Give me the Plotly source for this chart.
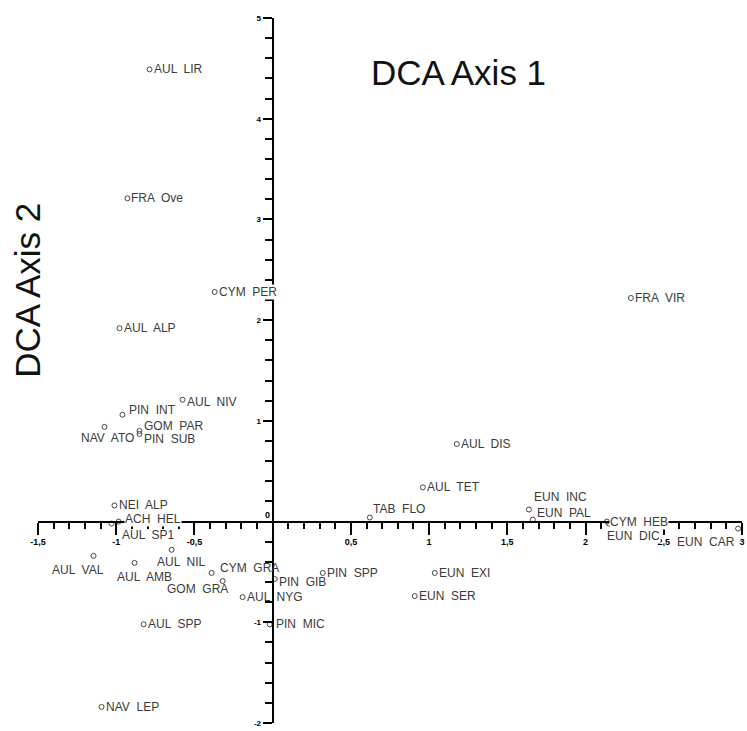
import plotly.graph_objects as go

# ---- data (DCA scores) ----
species = ["AUL LIR", "FRA Ove", "CYM PER", "AUL ALP", "FRA VIR", "AUL NIV", "PIN INT",
           "GOM PAR", "PIN SUB", "NAV ATO", "NEI ALP", "ACH HEL", "AUL SP1", "AUL VAL",
           "AUL AMB", "AUL NIL", "CYM GRA", "GOM GRA", "AUL NYG", "PIN GIB", "PIN SPP",
           "AUL SPP", "PIN MIC", "NAV LEP", "TAB FLO", "AUL TET", "AUL DIS", "EUN INC",
           "EUN PAL", "CYM HEB", "EUN DIC", "EUN CAR", "EUN EXI", "EUN SER"]
axis1 = [-0.787, -0.928, -0.371, -0.979, 2.29, -0.576, -0.960,
         -0.851, -0.851, -1.075, -1.011, -0.985, -1.030, -1.145,
         -0.883, -0.646, -0.390, -0.320, -0.192, 0.013, 0.320,
         -0.825, -0.019, -1.094, 0.621, 0.960, 1.177, 1.638,
         1.663, 2.137, 2.150, 2.975, 1.036, 0.908]
axis2 = [4.49, 3.21, 2.28, 1.92, 2.22, 1.21, 1.06,
         0.90, 0.87, 0.94, 0.16, 0.00, -0.02, -0.34,
         -0.41, -0.28, -0.51, -0.59, -0.75, -0.57, -0.51,
         -1.02, -1.02, -1.84, 0.04, 0.34, 0.77, 0.12,
         0.02, 0.00, -0.02, -0.07, -0.51, -0.74]

x_ticks = [-1.5, -1, -0.5, 0.5, 1, 1.5, 2, 2.5, 3]
x_ticktext = ["-1,5", "-1", "-0,5", "0,5", "1", "1,5", "2", "2,5", "3"]
y_ticks = [-2, -1, 1, 2, 3, 4, 5]
y_ticktext = ["-2", "-1", "1", "2", "3", "4", "5"]

# ---- label placement (pixel offsets from the marker, anchor) ----
label_place = {
    "AUL NIV": (3, 2, "left"), "PIN INT": (6, -5, "left"), "GOM PAR": (3, -5, "left"),
    "PIN SUB": (3, 5, "left"), "NAV ATO": (3, 11, "center"), "TAB FLO": (2, -9, "left"),
    "EUN INC": (4, -12, "left"), "EUN PAL": (3, -7, "left"), "CYM HEB": (2, 0, "left"),
    "EUN DIC": (-3, 12, "left"), "EUN CAR": (-2, 13, "right"), "ACH HEL": (5, -3, "left"),
    "AUL SP1": (9, 11, "left"), "AUL VAL": (11, 14, "right"), "AUL AMB": (10, 14, "center"),
    "AUL NIL": (10, 12, "center"), "CYM GRA": (7, -5, "left"), "GOM GRA": (6, 8, "right"),
    "PIN GIB": (3, 3, "left"), "PIN MIC": (5, 0, "left"),
}
white_bg = {"CYM PER", "ACH HEL", "CYM HEB", "EUN DIC"}

fig = go.Figure()
fig.add_trace(go.Scatter(
    x=axis1, y=axis2, mode="markers",
    marker=dict(symbol="circle-open", size=5, color="#444444", line=dict(width=1)),
    cliponaxis=False, showlegend=False, hoverinfo="text", text=species,
))

annotations = []
for name, xv, yv in zip(species, axis1, axis2):
    dx, dy, anchor = label_place.get(name, (3, 0, "left"))
    annotations.append(dict(
        x=xv, y=yv, xref="x", yref="y", text=name.replace(" ", "  "),
        showarrow=False, xanchor=anchor, yanchor="middle",
        xshift=dx, yshift=-dy, borderpad=0,
        bgcolor="white" if name in white_bg else None,
        font=dict(family="Liberation Sans, Arial", size=12, color="#3a3a3a"),
    ))

# origin label
annotations.append(dict(x=0, y=0, xref="x", yref="y", text="0", showarrow=False,
                        xanchor="right", yanchor="bottom", xshift=-1, yshift=0,
                        font=dict(family="Liberation Sans, Arial", size=9, color="black", weight="bold")))
# axis titles
annotations.append(dict(x=0.598, y=0.922, xref="paper", yref="paper", text="DCA Axis 1",
                        showarrow=False, xanchor="center", yanchor="middle",
                        font=dict(family="Liberation Sans, Arial", size=35, color="#111111")))
annotations.append(dict(x=-0.0142, y=0.613, xref="paper", yref="paper", text="DCA Axis 2",
                        showarrow=False, xanchor="center", yanchor="middle", textangle=-90,
                        font=dict(family="Liberation Sans, Arial", size=35, color="#111111")))

tickfont = dict(family="Liberation Sans, Arial", size=9, color="black", weight="bold")

fig.update_layout(
    width=747, height=731,
    margin=dict(l=38, r=5, t=18, b=8),
    paper_bgcolor="white", plot_bgcolor="white",
    showlegend=False,
    annotations=annotations,
    xaxis=dict(
        range=[-1.5, 3], domain=[0, 1], anchor="free", position=2 / 7,
        showgrid=False, zeroline=False, showline=True, linecolor="black", linewidth=2,
        tickmode="array", tickvals=x_ticks, ticktext=x_ticktext,
        ticks="outside", ticklen=12, tickwidth=2, tickcolor="black", tickfont=tickfont,
        minor=dict(tickmode="linear", tick0=0, dtick=0.1, ticks="outside", ticklen=6,
                   tickwidth=2, tickcolor="black", showgrid=False),
        automargin=False, fixedrange=True,
    ),
    yaxis=dict(
        range=[-2, 5], domain=[0, 1], anchor="free", position=1 / 3,
        showgrid=False, zeroline=False, showline=True, linecolor="black", linewidth=2,
        tickmode="array", tickvals=y_ticks, ticktext=y_ticktext,
        ticks="outside", ticklen=9, tickwidth=2, tickcolor="black",
        tickfont=dict(family="Liberation Sans, Arial", size=8, color="black", weight="bold"),
        minor=dict(tickmode="linear", tick0=0, dtick=0.2, ticks="outside", ticklen=7,
                   tickwidth=2, tickcolor="black", showgrid=False),
        automargin=False, fixedrange=True,
    ),
)

fig.write_html("out.html")
